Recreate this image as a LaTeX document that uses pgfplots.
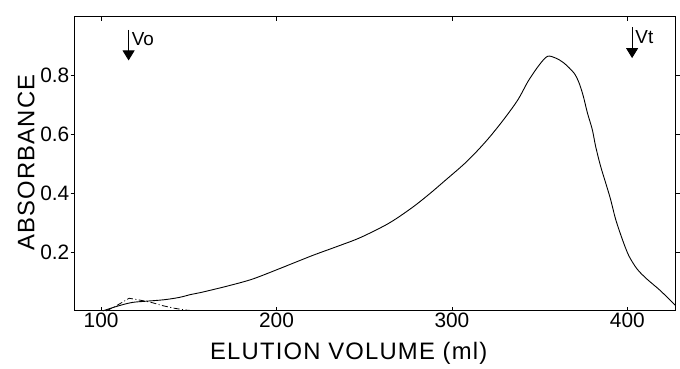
\documentclass[border=0pt]{standalone}
\usepackage{pgfplots}
\pgfplotsset{compat=1.18}
\usetikzlibrary{arrows.meta}
\usepackage{fontspec}
\setmainfont{Liberation Sans}
\begin{document}
\begin{tikzpicture}
\begin{axis}[
  at={(0,0)}, anchor=south west,
  scale only axis,
  width=603bp, height=295bp,
  xmin=85, xmax=427.5, ymin=0, ymax=1,
  axis line style={line width=1.1bp},
  xtick={100,200,300,400},
  ytick={0.2,0.4,0.6,0.8},
  yticklabels={0.2,0.4,0.6,0.8},
  xtick align=inside,
  ytick align=outside,
  major tick length=4bp,
  tick style={line width=0.8bp, black},
  /pgf/number format/assume math mode=true,
  ticklabel style={font=\fontsize{21}{23}\selectfont},
  xticklabel style={yshift=1bp},
  yticklabel style={xshift=2bp},
  xlabel={ELUTION VOLUME (ml)},
  ylabel={ABSORBANCE},
  label style={font=\fontsize{24}{26}\selectfont\addfontfeatures{LetterSpace=5}},
  xlabel style={at={(axis description cs:0.456,-0.146)}, anchor=center},
  ylabel style={at={(axis description cs:-0.081,0.505)}, anchor=center, rotate=0},
  clip=false,
]
\addplot[black, line width=0.9bp, smooth, tension=0.5] coordinates {
(101,0.0) (105,0.008) (111.6,0.02) (118,0.029) (125.7,0.033) (136,0.038)
(144.7,0.046) (151.3,0.056) (157.9,0.064) (173,0.086) (186.2,0.108)
(201,0.142) (220.3,0.188) (235.4,0.221) (248,0.250) (264,0.298)
(277,0.35) (287,0.397) (296,0.443) (307,0.50) (315,0.548)
(322,0.595) (330,0.655) (337.7,0.719) (343.4,0.781) (349.8,0.837)
(354.5,0.866) (359.2,0.860) (363.9,0.843) (369.6,0.809) (372.5,0.775)
(374.9,0.730) (377.2,0.674) (380,0.617) (381.9,0.560) (384.7,0.493)
(387.6,0.436) (390.4,0.38) (393.3,0.312) (397.1,0.244) (400.8,0.188)
(405.6,0.142) (411.2,0.108) (418.8,0.069) (427.5,0.018)
};
\addplot[black, line width=0.8bp, dash pattern=on 6bp off 2.5bp on 1bp off 2.5bp] coordinates {
(103,0.0) (108,0.015) (116,0.043) (121,0.038) (128.6,0.029) (135,0.018)
(141.8,0.009) (148,0.003) (152,0.001)
};
\draw[line width=0.9bp, -{Triangle[width=12bp,length=10bp]}] (axis cs:115.7,0.956) -- (axis cs:115.7,0.852);
\node[anchor=west, font=\fontsize{19}{20}\selectfont, inner sep=0pt] at (axis cs:117.5,0.925) {Vo};
\draw[line width=0.9bp, -{Triangle[width=12bp,length=10bp]}] (axis cs:402.7,0.965) -- (axis cs:402.7,0.86);
\node[anchor=west, font=\fontsize{19}{20}\selectfont, inner sep=0pt] at (axis cs:404.5,0.93) {Vt};
\end{axis}
\path (-75bp,-57bp) rectangle (605bp,312bp);
\end{tikzpicture}
\end{document}
